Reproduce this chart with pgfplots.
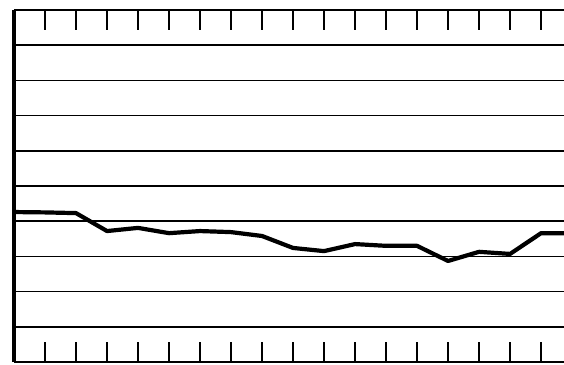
\documentclass[border=0pt]{standalone}
\usepackage{pgfplots}
\pgfplotsset{compat=1.18}
\begin{document}
\begin{tikzpicture}[x=1pt,y=1pt]
\useasboundingbox (0,0) rectangle (564,364);
\begin{axis}[
 at={(14pt,2pt)}, anchor=south west,
 scale only axis,
 width=550pt, height=352pt,
 xmin=0, xmax=17.74,
 ymin=0, ymax=10,
 axis line style={draw=none},
 xtick={1,...,17},
 xticklabels={},
 xtick pos=both,
 tick align=inside,
 major tick length=20pt,
 every tick/.style={black, line width=1.4pt},
 ytick={1,...,9},
 yticklabels={},
 ytick style={draw=none},
 ymajorgrids,
 major grid style={black, line width=1.6pt},
 clip=false,
]
\addplot[black, line width=4.2pt, line join=round] coordinates {
 (0,4.26) (1,4.25) (2,4.23) (3,3.72) (4,3.81) (5,3.66) (6,3.72)
 (7,3.69) (8,3.58) (9,3.24) (10,3.15) (11,3.35) (12,3.30) (13,3.30)
 (14,2.87) (15,3.13) (16,3.07) (17,3.66) (17.74,3.66)
};
\draw[black, line width=4pt] (rel axis cs:0,0) -- (rel axis cs:0,1);
\draw[black, line width=1.8pt] (rel axis cs:0,1) -- (rel axis cs:1,1);
\draw[black, line width=2.6pt] (rel axis cs:0,0) -- (rel axis cs:1,0);
\end{axis}
\end{tikzpicture}
\end{document}
